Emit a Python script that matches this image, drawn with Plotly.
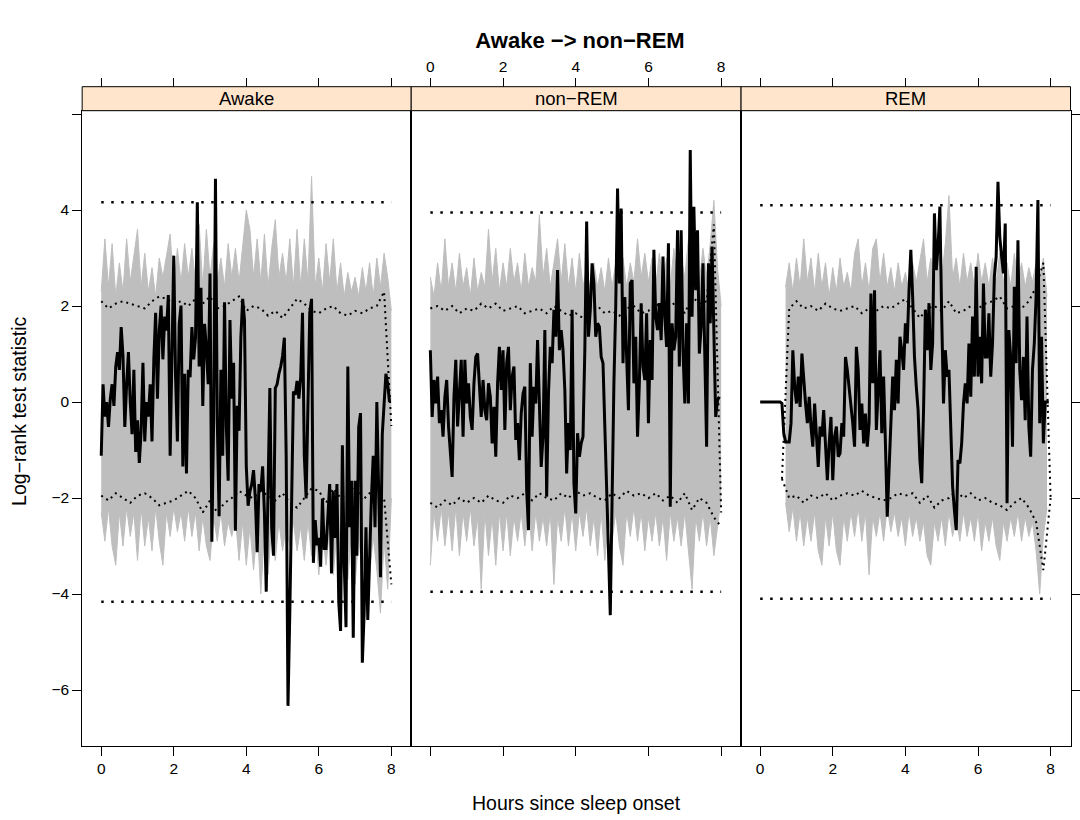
import plotly.graph_objects as go

# ---------------- data ----------------
panels = ["Awake", "non−REM", "REM"]
x_ticks = [0, 2, 4, 6, 8]
y_ticks = [-6, -4, -2, 0, 2, 4, 6]
y_tick_text = ["−6", "−4", "−2", "0", "2", "4", ""]
global_bound = [4.16, 3.95, 4.10]

hours = [
    0.00, 0.05, 0.10, 0.15, 0.20, 0.25, 0.30, 0.35, 0.40, 0.45,
    0.50, 0.55, 0.60, 0.65, 0.70, 0.75, 0.80, 0.85, 0.90, 0.95,
    1.00, 1.05, 1.10, 1.15, 1.20, 1.25, 1.30, 1.35, 1.40, 1.45,
    1.50, 1.55, 1.60, 1.65, 1.70, 1.75, 1.80, 1.85, 1.90, 1.95,
    2.00, 2.05, 2.10, 2.15, 2.20, 2.25, 2.30, 2.35, 2.40, 2.45,
    2.50, 2.55, 2.60, 2.65, 2.70, 2.75, 2.80, 2.85, 2.90, 2.95,
    3.00, 3.05, 3.10, 3.15, 3.20, 3.25, 3.30, 3.35, 3.40, 3.45,
    3.50, 3.55, 3.60, 3.65, 3.70, 3.75, 3.80, 3.85, 3.90, 3.95,
    4.00, 4.05, 4.10, 4.15, 4.20, 4.25, 4.30, 4.35, 4.40, 4.45,
    4.50, 4.55, 4.60, 4.65, 4.70, 4.75, 4.80, 4.85, 4.90, 4.95,
    5.00, 5.05, 5.10, 5.15, 5.20, 5.25, 5.30, 5.35, 5.40, 5.45,
    5.50, 5.55, 5.60, 5.65, 5.70, 5.75, 5.80, 5.85, 5.90, 5.95,
    6.00, 6.05, 6.10, 6.15, 6.20, 6.25, 6.30, 6.35, 6.40, 6.45,
    6.50, 6.55, 6.60, 6.65, 6.70, 6.75, 6.80, 6.85, 6.90, 6.95,
    7.00, 7.05, 7.10, 7.15, 7.20, 7.25, 7.30, 7.35, 7.40, 7.45,
    7.50, 7.55, 7.60, 7.65, 7.70, 7.75, 7.80, 7.85, 7.90, 7.95,
]

stat_awake = [
    -1.12, 0.37, -0.30, 0.00, -0.52, 0.07, 0.37, -0.08, 0.74, 1.04,
    0.67, 1.56, 0.96, -0.52, 0.37, 1.04, 0.00, -0.67, 0.67, -1.04,
    -0.38, -1.27, -0.60, 0.82, -0.82, 0.00, -0.30, 0.37, -0.82, 0.89,
    1.86, 0.07, 1.49, 2.01, 0.89, 1.78, 1.49, 2.23, -1.12, 1.11,
    3.05, 0.52, -0.82, 1.63, 2.01, -1.34, 0.59, -1.49, 0.67, 0.52,
    1.56, 0.89, 1.34, 4.16, 0.74, 2.38, -0.08, 1.63, 1.11, 0.37,
    2.68, -2.91, -0.38, 4.65, -0.38, -2.38, 0.67, -1.12, 2.08, -0.52,
    -1.64, 1.71, 0.07, 0.82, -2.68, -0.08, -0.60, 1.34, 2.15, 1.71,
    -1.34, -2.16, -1.86, -1.71, -1.42, -2.01, -3.13, -1.71, -1.86, -1.34,
    -2.31, -3.95, -1.49, 0.29, -2.61, -3.20, 0.29, 0.37, 0.59, 0.74,
    0.96, 1.34, -1.12, -6.33, -4.39, -1.64, 0.22, 0.15, 0.44, 0.07,
    0.52, 1.86, -1.12, -2.01, 0.22, 1.86, 2.15, -3.35, -2.46, -2.98,
    -2.83, -3.43, -2.01, -3.05, -3.05, -2.31, -1.71, -3.57, -1.86, -2.83,
    -1.71, -4.17, -4.77, -0.90, -3.35, -4.69, 0.74, -2.61, -1.64, -4.91,
    -1.64, -3.20, -0.52, -0.23, -5.43, -4.39, -2.61, -4.54, -3.05, -2.01,
    -1.12, -2.61, 0.00, -1.86, -3.65, -0.67, 0.07, 0.59, 0.37, 0.00,
]

stat_nonrem = [
    1.08, -0.31, 0.46, -0.03, 0.53, -0.44, -0.17, -0.72, 0.11, 0.46,
    -0.51, -1.00, -1.56, 0.11, 0.88, -0.51, 0.25, 0.88, -0.72, 0.88,
    -0.03, 0.39, -0.31, -0.58, 0.39, 0.94, 1.01, 0.25, -0.31, 0.46,
    -0.17, -0.38, 0.39, 0.11, -0.86, -0.10, -1.14, 0.39, 1.15, 0.25,
    1.08, -0.58, 0.81, 1.15, -0.17, 0.53, 0.74, -0.79, -0.44, -1.21,
    -0.24, 0.18, 0.32, -1.83, -2.67, 0.81, -0.72, 0.32, -0.03, 1.29,
    -0.31, -1.35, -0.72, 1.50, -1.97, 0.18, 1.15, 0.81, 1.92, 1.36,
    2.75, 1.08, 1.50, 1.08, 0.25, -1.49, -0.44, -1.00, 1.92, -1.69,
    -2.32, -0.65, -1.14, -0.86, -0.72, 1.08, 3.76, 1.36, 1.92, 2.89,
    2.47, 1.36, 1.64, 1.57, 0.94, 0.81, -0.51, -2.04, -3.08, -4.44,
    -1.42, 0.39, 1.99, 4.45, 2.47, 4.03, 0.81, 2.19, 0.94, -0.17,
    2.47, 2.54, 0.39, 1.36, -0.72, 0.39, 2.06, 0.74, 0.46, 1.85,
    -0.44, 1.29, 0.46, 3.17, 1.78, 1.50, 2.06, 1.29, 3.03, 1.78,
    1.15, 3.31, -2.18, 1.64, 1.08, 1.36, 3.58, 0.74, 3.58, 1.08,
    -0.03, 1.64, -0.03, 5.25, 1.78, 4.07, 2.33, 3.58, 1.01, 1.57,
    2.89, 1.15, -0.93, 2.89, 1.64, 3.24, 1.43, -0.31, 0.04, 0.11,
]

stat_rem = [
    0.00, 0.00, 0.00, 0.00, 0.00, 0.00, 0.00, 0.00, 0.00, 0.00,
    0.00, 0.00, -0.03, -0.65, -0.83, -0.83, -0.83, -0.44, 1.08, 0.32,
    -0.03, 0.53, -0.10, 1.01, 0.39, -0.03, -0.44, 0.11, -0.51, -0.93,
    -0.03, -0.65, -1.35, -0.51, -0.72, -0.17, -0.86, -1.63, -0.86, -0.31,
    -1.63, -0.72, -0.51, -1.14, -1.07, -0.44, -0.72, 0.94, 0.67, 0.32,
    -0.03, -0.44, -0.93, 1.15, 0.67, -0.58, -0.03, -0.86, -0.24, -0.93,
    -0.44, 2.26, 0.39, 2.33, -0.58, 0.39, 1.08, -0.65, 0.53, -0.86,
    -2.39, -1.42, -0.44, 0.53, -0.17, 0.88, -0.03, 1.36, 1.08, 0.67,
    1.64, 1.22, 2.33, 3.17, 2.19, 0.94, 0.32, -0.17, -1.21, -1.69,
    -0.17, 1.92, 1.08, 2.06, 0.67, 1.22, 3.93, 2.75, 3.24, 4.07,
    1.78, -0.03, 1.08, 0.53, 0.67, -0.44, -1.76, -2.25, -2.67, -1.21,
    -1.28, -0.86, -0.03, 0.39, -0.03, 1.22, 0.11, 1.78, 0.53, 2.82,
    0.53, 1.36, 0.39, 2.47, 0.94, 0.94, 1.85, 0.53, 1.22, 2.61,
    3.03, 4.59, 3.44, 3.03, 2.68, 3.72, -2.11, 1.50, 0.94, -0.93,
    2.40, 0.81, 3.37, 0.67, 0.04, 0.94, -0.38, 1.78, -0.51, -1.14,
    0.67, 1.22, 2.19, 4.21, -0.44, 1.36, -0.86, 0.00, 0.00, 0.00,
]

hours_env = [
    0.0, 0.1, 0.2, 0.3, 0.4, 0.5, 0.6, 0.7, 0.8, 0.9,
    1.0, 1.1, 1.2, 1.3, 1.4, 1.5, 1.6, 1.7, 1.8, 1.9,
    2.0, 2.1, 2.2, 2.3, 2.4, 2.5, 2.6, 2.7, 2.8, 2.9,
    3.0, 3.1, 3.2, 3.3, 3.4, 3.5, 3.6, 3.7, 3.8, 3.9,
    4.0, 4.1, 4.2, 4.3, 4.4, 4.5, 4.6, 4.7, 4.8, 4.9,
    5.0, 5.1, 5.2, 5.3, 5.4, 5.5, 5.6, 5.7, 5.8, 5.9,
    6.0, 6.1, 6.2, 6.3, 6.4, 6.5, 6.6, 6.7, 6.8, 6.9,
    7.0, 7.1, 7.2, 7.3, 7.4, 7.5, 7.6, 7.7, 7.8, 7.9,
    8.0,
]

# permutation band (upper / lower envelope of the grey realisations)
band_hi_awake = [
    2.3, 3.4, 2.4, 3.3, 2.2, 2.9, 2.3, 3.4, 2.5, 3.0,
    3.6, 2.4, 3.1, 2.3, 2.8, 2.2, 3.0, 2.6, 3.1, 3.5,
    2.4, 3.2, 2.5, 3.3, 2.6, 3.2, 2.5, 3.7, 2.4, 3.6,
    2.6, 3.3, 2.5, 3.0, 2.4, 3.3, 2.6, 3.2, 2.5, 3.3,
    4.0, 3.6, 2.6, 3.4, 2.5, 3.5, 2.4, 3.2, 3.8, 2.6,
    3.1, 2.5, 3.4, 2.4, 3.6, 2.4, 3.4, 2.5, 4.7, 2.4,
    3.0, 2.3, 3.3, 2.5, 3.4, 2.3, 2.9, 2.2, 2.7, 2.3,
    2.6, 2.2, 2.8, 2.3, 2.9, 2.2, 3.0, 2.4, 3.1, 2.6,
    1.9,
]
band_lo_awake = [
    -2.3, -2.9, -2.2, -3.0, -3.4, -2.3, -3.0, -2.2, -2.8, -2.3,
    -3.3, -2.2, -3.0, -2.4, -3.1, -2.2, -2.9, -3.4, -2.3, -2.8,
    -2.2, -2.7, -2.3, -2.9, -2.2, -2.8, -2.3, -3.1, -2.4, -3.0,
    -3.3, -2.4, -2.9, -2.3, -3.0, -2.5, -2.8, -2.4, -3.3, -2.5,
    -3.4, -2.6, -3.5, -2.6, -4.0, -2.7, -3.6, -2.6, -3.3, -2.5,
    -3.1, -2.6, -3.0, -2.5, -3.1, -2.6, -3.3, -2.5, -3.2, -2.6,
    -3.6, -2.7, -3.4, -2.6, -3.6, -2.7, -3.5, -2.6, -3.7, -2.7,
    -3.8, -2.8, -3.6, -2.7, -3.6, -2.8, -3.5, -4.4, -2.9, -3.9,
    -2.0,
]
band_hi_nonrem = [
    2.6, 2.2, 2.9, 2.3, 3.4, 2.4, 2.9, 2.3, 3.1, 2.4,
    2.8, 2.2, 3.0, 2.3, 2.7, 2.4, 3.6, 2.5, 3.2, 2.3,
    2.9, 2.4, 3.2, 2.5, 2.9, 2.3, 3.1, 2.4, 2.8, 2.5,
    3.9, 2.6, 3.2, 2.4, 2.9, 3.4, 2.5, 3.3, 2.4, 3.0,
    2.3, 3.1, 2.4, 2.8, 2.3, 2.9, 2.4, 2.8, 2.3, 3.0,
    2.4, 2.9, 2.5, 3.0, 2.4, 2.9, 2.5, 3.4, 2.6, 3.1,
    2.5, 3.0, 2.4, 3.1, 2.5, 3.0, 2.4, 3.2, 2.5, 3.0,
    2.6, 3.4, 2.6, 3.1, 2.5, 3.2, 2.6, 3.3, 4.2, 2.8,
    2.0,
]
band_lo_nonrem = [
    -3.4, -2.3, -2.9, -2.2, -3.0, -2.3, -3.1, -2.2, -3.2, -2.3,
    -2.9, -2.2, -3.0, -2.4, -3.9, -2.3, -3.2, -2.4, -3.4, -2.3,
    -3.1, -2.3, -3.2, -2.4, -2.9, -2.3, -3.0, -2.2, -3.1, -2.3,
    -2.9, -2.4, -3.0, -2.3, -3.8, -2.4, -2.9, -2.2, -3.0, -2.3,
    -3.1, -2.3, -2.8, -2.2, -3.0, -2.4, -3.2, -2.3, -3.3, -2.4,
    -2.9, -2.3, -3.0, -3.4, -2.3, -2.8, -2.2, -2.9, -2.3, -3.1,
    -2.4, -2.9, -2.3, -3.0, -2.4, -3.3, -2.3, -2.9, -2.4, -3.0,
    -2.3, -3.1, -3.9, -2.4, -2.9, -2.3, -3.0, -2.4, -3.2, -2.6,
    -2.0,
]
# REM band starts at 0.7 h and ends at 7.9 h
band_hi_rem = [
    2.4, 2.9, 2.3,
    3.0, 2.4, 3.4, 2.5, 3.0, 2.3, 3.1, 2.4, 2.9, 2.2,
    2.8, 2.3, 3.0, 2.4, 2.7, 2.3, 3.1, 3.4, 2.4, 2.9,
    2.3, 3.2, 3.4, 2.5, 3.1, 2.4, 2.8, 2.3, 2.9, 2.4,
    2.7, 2.3, 2.9, 2.5, 3.0, 3.4, 2.5, 3.0, 2.4, 3.2,
    2.6, 3.3, 4.3, 2.6, 3.0, 2.4, 3.1, 2.5, 2.9, 2.4,
    3.1, 2.5, 2.9, 2.4, 3.0, 2.5, 3.1, 2.5, 2.9, 2.4,
    3.1, 2.5, 2.9, 2.4, 2.8, 2.5, 2.9, 2.6, 3.0, 2.2,
]
band_lo_rem = [
    -2.1, -2.7, -2.2,
    -2.9, -2.3, -3.0, -2.4, -2.9, -2.3, -3.1, -3.4, -2.4, -3.0,
    -2.3, -3.1, -3.4, -2.4, -2.9, -2.3, -2.8, -2.2, -2.9, -2.3,
    -3.6, -2.4, -2.8, -2.3, -2.9, -2.2, -2.7, -2.3, -2.8, -2.4,
    -3.0, -2.3, -2.8, -2.4, -2.9, -2.5, -3.2, -3.4, -2.5, -2.9,
    -2.4, -3.0, -2.3, -2.8, -2.4, -2.9, -2.3, -2.8, -2.4, -2.9,
    -2.3, -3.1, -2.5, -2.9, -2.4, -3.0, -3.3, -2.5, -2.9, -2.4,
    -2.8, -2.3, -2.9, -2.4, -2.8, -2.5, -3.1, -4.0, -2.8, -2.2,
]

# pointwise 95% bounds (every 0.2 h)
pw_hi_awake = [
    2.10, 1.95, 2.05, 2.10, 2.05, 2.00, 1.95, 2.10, 2.20, 2.15,
    2.05, 2.10, 2.00, 2.15, 2.05, 2.20, 1.95, 2.00, 2.10, 2.20,
    1.90, 2.00, 1.95, 1.80, 1.90, 1.75, 1.95, 2.15, 2.05, 1.90,
    1.85, 1.95, 2.00, 1.85, 1.80, 1.90, 1.85, 1.95, 2.00, 2.30,
    -0.50,
]
pw_lo_awake = [
    -1.95, -2.05, -1.90, -2.00, -2.10, -1.95, -1.90, -2.00, -2.15, -2.10,
    -2.05, -1.95, -1.85, -2.00, -2.30, -2.05, -2.30, -2.10, -2.00, -1.85,
    -1.95, -2.00, -1.85, -1.95, -2.05, -1.90, -2.10, -2.20, -2.00, -1.80,
    -1.85, -2.10, -1.80, -2.00, -1.90, -1.75, -2.05, -1.90, -1.95, -2.00,
    -3.80,
]
pw_hi_nonrem = [
    1.95, 2.00, 1.90, 2.00, 1.85, 1.95, 1.90, 2.05, 1.95, 2.05,
    1.90, 1.95, 2.00, 1.85, 1.90, 1.95, 1.85, 2.00, 1.90, 1.80,
    1.85, 1.75, 1.90, 2.00, 1.85, 1.90, 1.80, 1.95, 2.00, 1.85,
    1.90, 2.05, 1.95, 2.00, 2.10, 1.85, 2.20, 2.05, 2.10, 3.70,
    -2.30,
]
pw_lo_nonrem = [
    -2.10, -2.20, -2.05, -2.15, -2.00, -2.10, -2.00, -2.10, -1.95, -2.05,
    -2.10, -1.95, -2.00, -1.90, -2.05, -1.90, -2.00, -2.05, -1.90, -2.00,
    -1.85, -1.95, -1.90, -2.00, -2.05, -1.90, -2.00, -1.85, -1.95, -1.90,
    -2.00, -1.90, -2.05, -1.95, -2.10, -1.90, -2.25, -2.00, -2.10, -2.40,
    -2.60,
]
# REM bounds from 0.6 h
pw_hi_rem = [
    -1.60, 1.95, 2.10, 1.95, 2.00, 1.90, 2.05, 1.95, 1.90, 1.95,
    2.00, 1.85, 1.95, 1.90, 2.00, 1.95, 2.05, 2.15, 1.95, 1.75,
    1.95, 2.00, 1.90, 2.10, 1.85, 1.90, 2.00, 1.95, 2.05, 2.10,
    2.20, 1.95, 2.00, 1.95, 2.10, 2.40, 2.90, -2.00,
]
pw_lo_rem = [
    -1.60, -2.00, -1.95, -2.10, -1.95, -2.00, -1.90, -2.05, -1.95, -1.90,
    -1.95, -1.85, -1.95, -2.00, -2.05, -2.00, -1.90, -1.95, -1.90, -2.10,
    -1.95, -2.20, -2.05, -2.00, -1.85, -2.00, -1.90, -2.05, -2.00, -2.10,
    -2.15, -2.25, -2.10, -2.00, -2.20, -2.50, -3.50, -2.00,
]

# ---------------- layout geometry (pixels of the 1080x820 page) ----------------
W, H = 1080, 820
FONT = "Liberation Sans, Arial, Helvetica, sans-serif"
panel_px = [(82.7, 413.9), (413.9, 745.9), (745.9, 1077.5)]
panel_top, panel_bottom, strip_top = 110.7, 745.7, 86.7
x_range = [-0.526, 8.548]
y_range = [-7.16, 6.07]


def fx(p):
    return p / W


def fy(p):
    return 1 - p / H


GREY = "#bebebe"
fig = go.Figure()

series = [
    (stat_awake, hours_env, band_hi_awake, band_lo_awake, hours_env[::2], pw_hi_awake, pw_lo_awake),
    (stat_nonrem, hours_env, band_hi_nonrem, band_lo_nonrem, hours_env[::2], pw_hi_nonrem, pw_lo_nonrem),
    (stat_rem, hours_env[7:80], band_hi_rem, band_lo_rem, hours_env[6::2], pw_hi_rem, pw_lo_rem),
]

for i, (stat, bx, bhi, blo, px_, phi, plo) in enumerate(series):
    xa = "x" if i == 0 else f"x{i + 1}"
    ya = "y" if i == 0 else f"y{i + 1}"
    xtop = f"x{i + 4}"
    common = dict(xaxis=xa, yaxis=ya, showlegend=False, hoverinfo="skip")
    fig.add_trace(go.Scatter(x=bx, y=bhi, mode="lines",
                             line=dict(color=GREY, width=1), **common))
    fig.add_trace(go.Scatter(x=bx, y=blo, mode="lines", fill="tonexty",
                             fillcolor=GREY, line=dict(color=GREY, width=1), **common))
    for pw in (phi, plo):
        fig.add_trace(go.Scatter(x=px_, y=pw, mode="lines",
                                 line=dict(color="black", width=2, dash="2px,4px"), **common))
    for sign in (1, -1):
        fig.add_trace(go.Scatter(
            x=[hours_env[0], hours_env[-1]],
            y=[sign * global_bound[i], sign * global_bound[i]],
            mode="lines", line=dict(color="black", width=2.5, dash="2.5px,7.5px"),
            xaxis=xtop, yaxis=ya, showlegend=False, hoverinfo="skip"))
    fig.add_trace(go.Scatter(x=hours, y=stat, mode="lines",
                             line=dict(color="black", width=3), **common))

tickfont = dict(family=FONT, size=15.5, color="black")
axis_common = dict(showgrid=False, zeroline=False, showline=True, linecolor="black",
                   linewidth=1, mirror=True, ticks="outside", ticklen=9,
                   tickwidth=1, tickcolor="black", tickfont=tickfont)

layout = dict(
    width=W, height=H, autosize=False,
    margin=dict(l=0, r=0, t=0, b=0, pad=0),
    paper_bgcolor="white", plot_bgcolor="white",
    font=dict(family=FONT, color="black"),
    title=dict(text="<b>Awake −> non−REM</b>", x=fx(580), xanchor="center",
               y=fy(40), yanchor="middle", font=dict(family=FONT, size=22, color="black")),
)

for i, (a, b) in enumerate(panel_px):
    n = "" if i == 0 else str(i + 1)
    layout[f"xaxis{n}"] = dict(
        domain=[fx(a), fx(b)], range=x_range, anchor=f"y{n}",
        tickvals=x_ticks, showticklabels=(i != 1), **axis_common)
    yax = dict(domain=[fy(panel_bottom), fy(panel_top)], range=y_range,
               anchor=f"x{n}", tickvals=y_ticks, ticktext=y_tick_text, **axis_common)
    if i == 1:
        yax["ticks"] = ""
        yax["showticklabels"] = False
    if i == 2:
        yax["side"] = "right"
        yax["showticklabels"] = False
    layout[f"yaxis{n}"] = yax
    base = "x" if i == 0 else f"x{i + 1}"
    layout[f"xaxis{i + 4}"] = dict(
        overlaying=base, anchor="free", position=fy(strip_top), side="top",
        range=x_range, tickvals=x_ticks, showticklabels=(i == 1),
        showgrid=False, zeroline=False, showline=False, ticks="outside",
        ticklen=9, tickwidth=1, tickcolor="black", tickfont=tickfont)

shapes, annotations = [], []
for i, (a, b) in enumerate(panel_px):
    shapes.append(dict(type="rect", xref="paper", yref="paper",
                       x0=fx(a), x1=fx(b), y0=fy(panel_top), y1=fy(strip_top),
                       fillcolor="#ffe5cc", line=dict(color="black", width=1), layer="above"))
    annotations.append(dict(text=panels[i], xref="paper", yref="paper",
                            x=fx((a + b) / 2), y=fy((panel_top + strip_top) / 2),
                            xanchor="center", yanchor="middle", showarrow=False,
                            font=dict(family=FONT, size=18.5, color="black")))

annotations.append(dict(text="Hours since sleep onset", xref="paper", yref="paper",
                        x=fx(580), y=fy(803), xanchor="center", yanchor="middle",
                        showarrow=False, font=dict(family=FONT, size=19.5, color="black")))
annotations.append(dict(text="Log−rank test statistic", xref="paper", yref="paper",
                        x=fx(19), y=fy(411), xanchor="center", yanchor="middle",
                        textangle=-90, showarrow=False,
                        font=dict(family=FONT, size=19.5, color="black")))

layout["shapes"] = shapes
layout["annotations"] = annotations
fig.update_layout(**layout)

fig.write_html("out.html",
               config={"displayModeBar": False, "staticPlot": True},
               post_script="document.body.style.margin='0';document.body.style.padding='0';")
